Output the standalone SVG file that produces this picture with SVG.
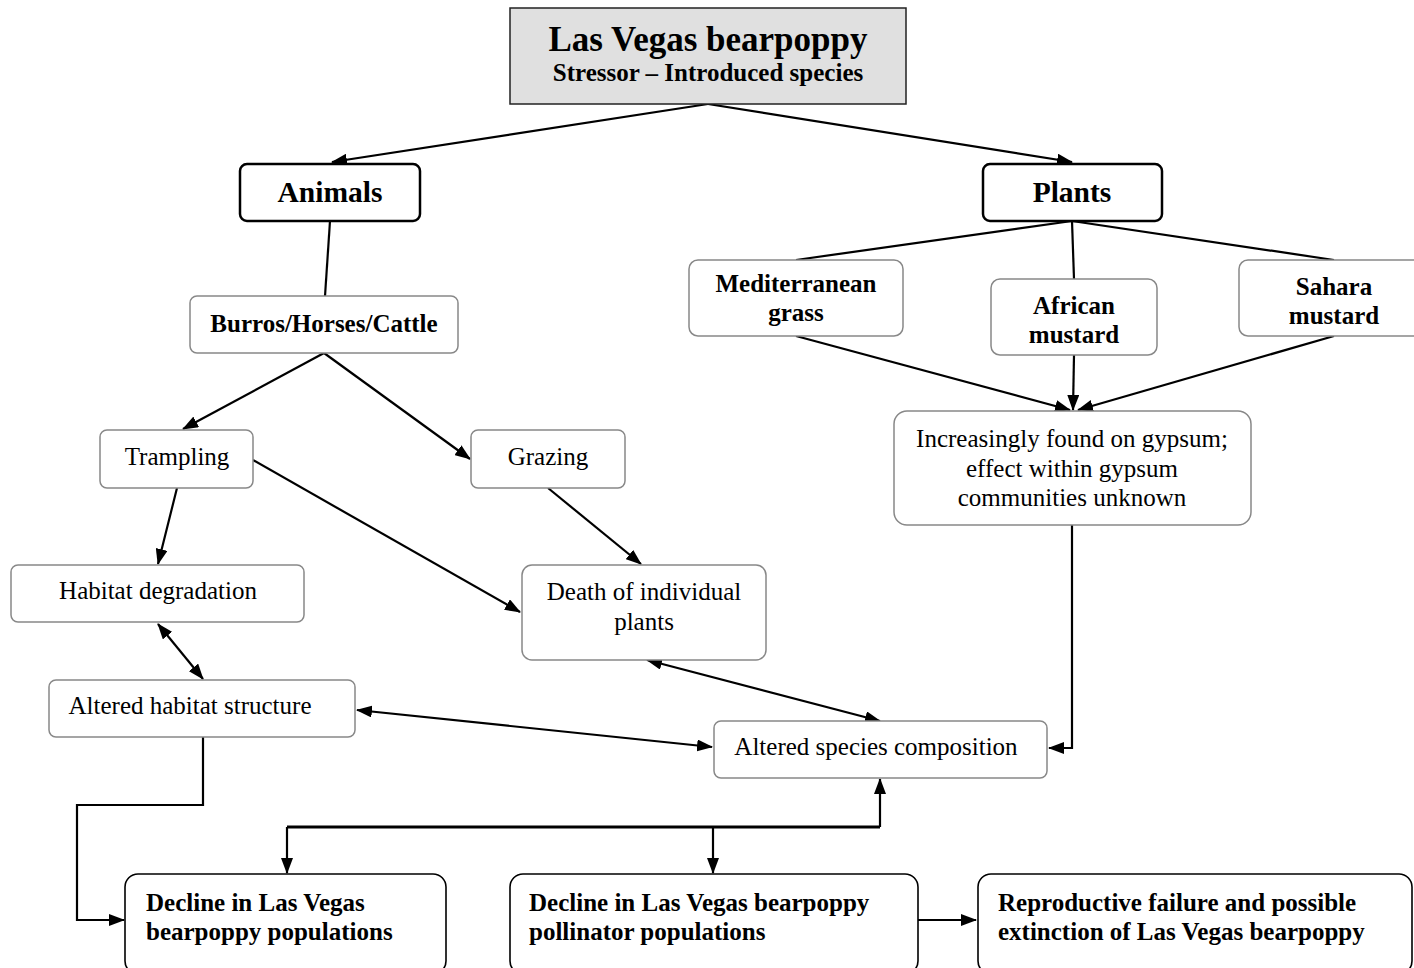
<svg xmlns="http://www.w3.org/2000/svg" width="1414" height="968" viewBox="0 0 1414 968">
  <defs>
    <marker id="arrow" viewBox="0 0 16 12" refX="15" refY="6" markerWidth="16" markerHeight="12" markerUnits="userSpaceOnUse" orient="auto-start-reverse">
      <path d="M0,0 L16,6 L0,12 Z" fill="#000"/>
    </marker>
    <style>
      .title { fill: #e0e0e0; stroke: #222; stroke-width: 1.5; }
      .main { fill: #fff; stroke: #000; stroke-width: 2.5; }
      .sub { fill: #fff; stroke: #888; stroke-width: 1.5; }
      .out { fill: #fff; stroke: #000; stroke-width: 1.6; }
      text { font-family: "Liberation Serif", "Times New Roman", serif; fill: #000; }
      .c { text-anchor: middle; }
      .b { font-weight: bold; }
      .t20 { font-size: 25px; }
      .t22 { font-size: 25px; }
      .line { fill: none; stroke: #000; stroke-width: 2.2; }
      .arr { fill: none; stroke: #000; stroke-width: 2.2; marker-end: url(#arrow); }
      .dbl { fill: none; stroke: #000; stroke-width: 2.2; marker-start: url(#arrow); marker-end: url(#arrow); }
    </style>
  </defs>
  <rect width="1414" height="968" fill="#fff"/>

  <g id="connectors">
    <path class="arr" d="M708,104 L332,162"/>
    <path class="arr" d="M708,104 L1072,162"/>
    <path class="line" d="M330,221 L325,296"/>
    <path class="arr" d="M324,353 L183,429"/>
    <path class="arr" d="M324,353 L470,459"/>
    <path class="arr" d="M177,488 L158,564"/>
    <path class="arr" d="M253,460 L520,612"/>
    <path class="arr" d="M548,488 L641,564"/>
    <path class="dbl" d="M158,624 L203,679"/>
    <path class="dbl" d="M647,660 L880,721"/>
    <path class="dbl" d="M357,710 L712,747"/>
    <path class="line" d="M1072,221 L796,260"/>
    <path class="line" d="M1072,221 L1074,279"/>
    <path class="line" d="M1072,221 L1334,260"/>
    <path class="arr" d="M796,336 L1070,410"/>
    <path class="arr" d="M1074,355 L1073,410"/>
    <path class="arr" d="M1334,336 L1078,410"/>
    <path class="arr" d="M1072,525 L1072,748 L1049,748"/>
    <path class="arr" d="M203,737 L203,805 L77,805 L77,920 L124,920"/>
    <path class="arr" d="M880,827 L880,779"/>
    <path fill="none" stroke="#000" stroke-width="3" d="M287,827 L880,827"/>
    <path class="arr" d="M287,827 L287,873"/>
    <path class="arr" d="M713,827 L713,873"/>
    <path class="arr" stroke-width="2.5" d="M918,920 L976,920"/>
  </g>

  <g id="title">
    <rect class="title" x="510" y="8" width="396" height="96"/>
    <text class="c b" x="708" y="51" font-size="35">Las Vegas bearpoppy</text>
    <text class="c b t22" x="708" y="81">Stressor – Introduced species</text>
  </g>

  <g id="animals">
    <rect class="main" x="240" y="164" width="180" height="57" rx="7"/>
    <text class="c b" x="330" y="202" font-size="29.5">Animals</text>
  </g>

  <g id="plants">
    <rect class="main" x="983" y="164" width="179" height="57" rx="7"/>
    <text class="c b" x="1072" y="202" font-size="29.5">Plants</text>
  </g>

  <g id="burros">
    <rect class="sub" x="190" y="296" width="268" height="57" rx="7"/>
    <text class="c b t20" x="324" y="332">Burros/Horses/Cattle</text>
  </g>

  <g id="trampling">
    <rect class="sub" x="100" y="430" width="153" height="58" rx="7"/>
    <text class="c t20" x="177" y="465">Trampling</text>
  </g>

  <g id="grazing">
    <rect class="sub" x="471" y="430" width="154" height="58" rx="7"/>
    <text class="c t20" x="548" y="465">Grazing</text>
  </g>

  <g id="habitat-degradation">
    <rect class="sub" x="11" y="565" width="293" height="57" rx="7"/>
    <text class="c t20" x="158" y="599">Habitat degradation</text>
  </g>

  <g id="death-of-plants">
    <rect class="sub" x="522" y="565" width="244" height="95" rx="10"/>
    <text class="c t20" x="644" y="600">Death of individual</text>
    <text class="c t20" x="644" y="630">plants</text>
  </g>

  <g id="altered-habitat">
    <rect class="sub" x="49" y="680" width="306" height="57" rx="7"/>
    <text class="c t20" x="190" y="714">Altered habitat structure</text>
  </g>

  <g id="altered-species">
    <rect class="sub" x="714" y="721" width="333" height="57" rx="7"/>
    <text class="c t20" x="876" y="755">Altered species composition</text>
  </g>

  <g id="mediterranean-grass">
    <rect class="sub" x="689" y="260" width="214" height="76" rx="9"/>
    <text class="c b t20" x="796" y="292">Mediterranean</text>
    <text class="c b t20" x="796" y="321">grass</text>
  </g>

  <g id="african-mustard">
    <rect class="sub" x="991" y="279" width="166" height="76" rx="9"/>
    <text class="c b t20" x="1074" y="314">African</text>
    <text class="c b t20" x="1074" y="343">mustard</text>
  </g>

  <g id="sahara-mustard">
    <rect class="sub" x="1239" y="260" width="190" height="76" rx="9"/>
    <text class="c b t20" x="1334" y="295">Sahara</text>
    <text class="c b t20" x="1334" y="324">mustard</text>
  </g>

  <g id="gypsum">
    <rect class="sub" x="894" y="411" width="357" height="114" rx="13"/>
    <text class="c t20" x="1072" y="447">Increasingly found on gypsum;</text>
    <text class="c t20" x="1072" y="477">effect within gypsum</text>
    <text class="c t20" x="1072" y="506">communities unknown</text>
  </g>

  <g id="decline-populations">
    <rect class="out" x="125" y="874" width="321" height="100" rx="13"/>
    <text class="b t20" x="146" y="911">Decline in Las Vegas</text>
    <text class="b t20" x="146" y="940">bearpoppy populations</text>
  </g>

  <g id="decline-pollinators">
    <rect class="out" x="510" y="874" width="408" height="100" rx="13"/>
    <text class="b t20" x="529" y="911">Decline in Las Vegas bearpoppy</text>
    <text class="b t20" x="529" y="940">pollinator populations</text>
  </g>

  <g id="extinction">
    <rect class="out" x="978" y="874" width="434" height="100" rx="13"/>
    <text class="b t20" x="998" y="911">Reproductive failure and possible</text>
    <text class="b t20" x="998" y="940">extinction of Las Vegas bearpoppy</text>
  </g>
</svg>
